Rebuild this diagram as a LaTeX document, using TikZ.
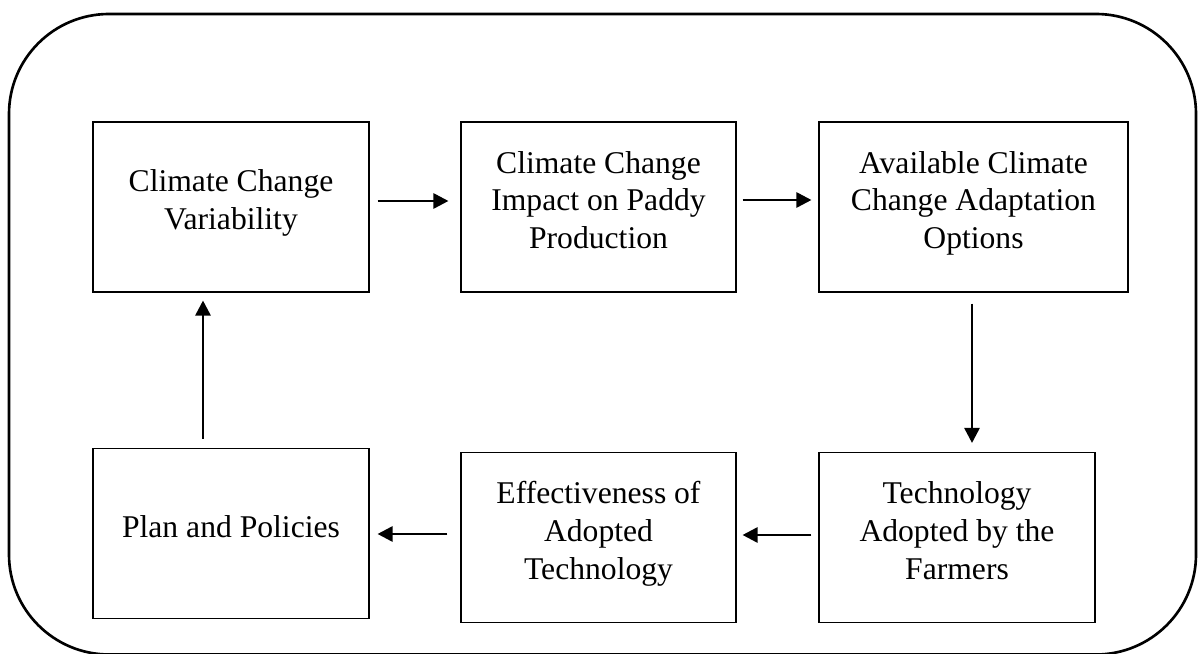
\documentclass[tikz,border=0pt]{standalone}
\usepackage{fontspec}
\setmainfont{Liberation Serif}
\usetikzlibrary{arrows.meta}

\begin{document}
\begin{tikzpicture}[
  stage/.style={draw, line width=0.6pt, minimum height=3.4cm, align=center,
    font=\fontsize{18}{21.6}\selectfont,
    execute at end node={\rule[-2.8mm]{0pt}{0pt}}},
  flow/.style={line width=1.5pt, -{Triangle[length=0.3cm,width=0.3cm]}}]
  \useasboundingbox (0,0) rectangle (23.96,13.08);
  % outer frame
  \draw[line width=1.5pt,rounded corners=2cm]
    (0.18,-0.01) rectangle (23.92,12.8);

  % top row
  \node[stage, minimum width=5.52cm] (var) at (4.62,8.94)
    {Climate Change\\Variability};
  \node[stage, minimum width=5.50cm] (impact) at (11.97,8.94)
    {Climate Change\\Impact on Paddy\\Production};
  \node[stage, minimum width=6.18cm] (adapt) at (19.47,8.94)
    {Available Climate\\Change Adaptation\\Options};

  % bottom row
  \node[stage, minimum width=5.52cm] (policy) at (4.62,2.41)
    {Plan and Policies};
  \node[stage, minimum width=5.50cm] (effect) at (11.97,2.33)
    {Effectiveness of\\Adopted\\Technology};
  \node[stage, minimum width=5.52cm] (techn) at (19.14,2.33)
    {Technology\\Adopted by the\\Farmers};

  \draw[flow, shorten <=0.16cm, shorten >=0.24cm]
    ([yshift=1.2mm]var.east) -- ([yshift=1.2mm]impact.west);
  \draw[flow, shorten <=0.12cm, shorten >=0.14cm]
    ([yshift=1.4mm]impact.east) -- ([yshift=1.4mm]adapt.west);
  \draw[flow, shorten <=0.22cm, shorten >=0.18cm]
    ([xshift=-0.3mm]adapt.south) -- ([xshift=-0.3mm]adapt.south |- techn.north);
  \draw[flow, shorten <=0.14cm, shorten >=0.12cm]
    ([yshift=0.5mm]techn.west) -- ([yshift=0.5mm]effect.east);
  \draw[flow, shorten <=0.26cm, shorten >=0.16cm]
    ([yshift=0.7mm]effect.west) -- ([yshift=0.7mm]effect.west -| policy.east);
  \draw[flow, shorten <=0.18cm, shorten >=0.16cm]
    ([xshift=-5.6mm]policy.north) -- ([xshift=-5.6mm]policy.north |- var.south);
\end{tikzpicture}
\end{document}
